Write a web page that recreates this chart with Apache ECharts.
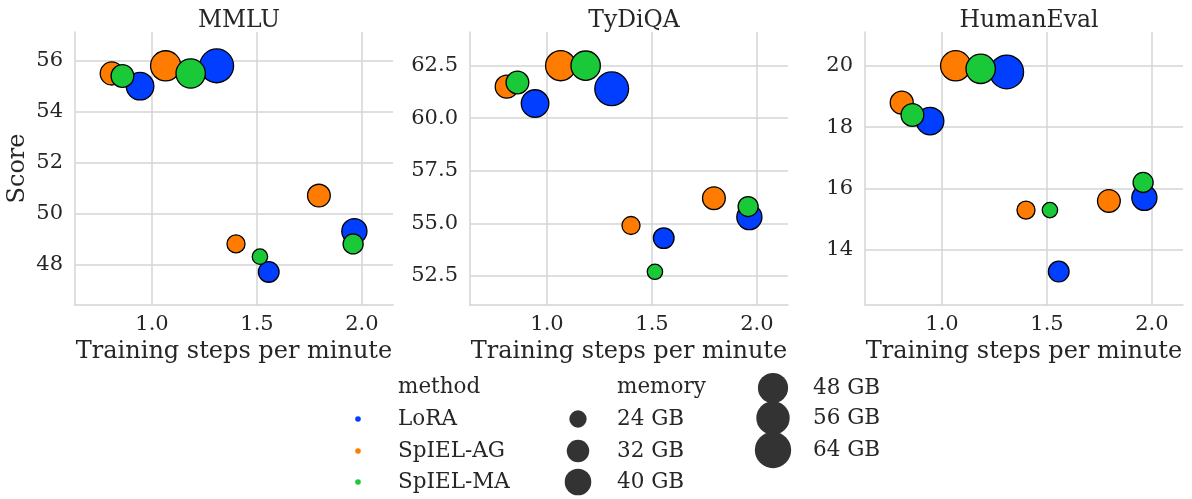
<!DOCTYPE html>
<html>
<head>
<meta charset="utf-8">
<script src="https://cdn.jsdelivr.net/npm/echarts@6/dist/echarts.min.js"></script>
<style>
  html, body { margin: 0; padding: 0; background: #ffffff; }
  #chart { width: 1192px; height: 499px; }
</style>
</head>
<body>
<div id="chart"></div>
<script>
const methods = ['LoRA', 'SpIEL-AG', 'SpIEL-MA'];
const methodColors = ['#023eff', '#ff7c00', '#1ac938'];
const benchmarks = ['MMLU', 'TyDiQA', 'HumanEval'];

// Training throughput (steps per minute) and peak memory (GB) of each run
const loraSpeed = [0.943, 1.308, 1.556, 1.964];
const loraMemory = [42, 57, 29, 37];
const agSpeed = [0.808, 1.065, 1.400, 1.795];
const agMemory = [33, 48, 25, 32.5];
const maSpeed = [0.859, 1.184, 1.514, 1.958];
const maMemory = [32.5, 46, 21.5, 28];

// Benchmark scores of the same runs
const loraMMLU = [55.0, 55.8, 47.7, 49.3];
const agMMLU = [55.5, 55.8, 48.8, 50.7];
const maMMLU = [55.4, 55.5, 48.3, 48.8];
const loraTyDiQA = [60.7, 61.4, 54.3, 55.3];
const agTyDiQA = [61.5, 62.5, 54.9, 56.2];
const maTyDiQA = [61.7, 62.5, 52.7, 55.8];
const loraHumanEval = [18.2, 19.8, 13.3, 15.7];
const agHumanEval = [18.8, 20.0, 15.3, 15.6];
const maHumanEval = [18.4, 19.9, 15.3, 16.2];

// Axis extents and tick steps
const xRange = [0.633, 2.148];
const xStep = 0.5;
const yRanges = [[46.4, 57.13], [51.12, 64.1], [12.21, 21.1]];
const ySteps = [2, 2.5, 2];
const yDecimals = [0, 1, 0];

// Memory values shown in the size legend
const memoryLegend = [24, 32, 40, 48, 56, 64];

const speeds = [loraSpeed, agSpeed, maSpeed];
const memories = [loraMemory, agMemory, maMemory];
const scores = [
  [loraMMLU, agMMLU, maMMLU],
  [loraTyDiQA, agTyDiQA, maTyDiQA],
  [loraHumanEval, agHumanEval, maHumanEval]
];

// marker diameter grows with memory (area is linear in memory)
function memToSize(m) {
  return Math.sqrt(300 + (m - 24) * 25.5);
}

const FONT = 'DejaVu Serif';
const TEXT = '#262626';
const GRID = '#d4d4d4';
const panelLeft = [75, 470, 865];
const panelTop = 32, panelW = 318, panelH = 273;

const grids = [], xAxes = [], yAxes = [], titles = [], series = [];

benchmarks.forEach((name, p) => {
  grids.push({ left: panelLeft[p], top: panelTop, width: panelW, height: panelH, containLabel: false });
  titles.push({
    text: name,
    left: panelLeft[p] + panelW / 2,
    top: 4,
    textAlign: 'center',
    textStyle: { fontFamily: FONT, fontSize: 23.5, fontWeight: 'normal', color: TEXT }
  });
  xAxes.push({
    type: 'value', gridIndex: p,
    min: xRange[0], max: xRange[1],
    minInterval: xStep, maxInterval: xStep,
    name: 'Training steps per minute',
    nameLocation: 'middle', nameGap: 35,
    nameTextStyle: { fontFamily: FONT, fontSize: 24, color: TEXT },
    axisLine: { show: true, lineStyle: { color: GRID, width: 1.5 } },
    axisTick: { show: false },
    axisLabel: {
      fontFamily: FONT, fontSize: 21, color: TEXT, margin: 9,
      showMinLabel: false, showMaxLabel: false,
      formatter: v => v.toFixed(1)
    },
    splitLine: { show: true, showMinLine: false, showMaxLine: false, lineStyle: { color: GRID, width: 1.5 } }
  });
  yAxes.push({
    type: 'value', gridIndex: p,
    min: yRanges[p][0], max: yRanges[p][1],
    minInterval: ySteps[p], maxInterval: ySteps[p],
    name: p === 0 ? 'Score' : '',
    nameLocation: 'middle', nameGap: 45, nameRotate: 90,
    nameTextStyle: { fontFamily: FONT, fontSize: 24, color: TEXT },
    axisLine: { show: true, lineStyle: { color: GRID, width: 1.5 } },
    axisTick: { show: false },
    axisLabel: {
      fontFamily: FONT, fontSize: 21, color: TEXT, margin: 12,
      showMinLabel: false, showMaxLabel: false,
      formatter: v => v.toFixed(yDecimals[p])
    },
    splitLine: { show: true, showMinLine: false, showMaxLine: false, lineStyle: { color: GRID, width: 1.5 } }
  });
  methods.forEach((m, k) => {
    series.push({
      type: 'scatter',
      name: m,
      xAxisIndex: p, yAxisIndex: p,
      data: speeds[k].map((s, i) => [s, scores[p][k][i], memories[k][i]]),
      symbol: 'circle',
      symbolSize: d => memToSize(d[2]),
      itemStyle: { color: methodColors[k], borderColor: '#000000', borderWidth: 1.3, opacity: 1 },
      emphasis: { disabled: true },
      z: 2 + k
    });
  });
});

// Legend: hue (method) and size (memory) entries
const graphics = [];
const legendFont = '21.5px "' + FONT + '"';
const rowY = [387, 419, 451, 482];
function legendText(x, y, s) {
  graphics.push({ type: 'text', x: x, y: y,
    style: { text: s, font: legendFont, fill: TEXT, verticalAlign: 'middle', align: 'left' } });
}
legendText(398, rowY[0], 'method');
methods.forEach((m, k) => {
  graphics.push({ type: 'circle', shape: { cx: 358, cy: rowY[k + 1], r: 2.8 },
    style: { fill: methodColors[k] } });
  legendText(398, rowY[k + 1], m);
});
legendText(617, rowY[0], 'memory');
const sizeSlots = [[578, 419], [578, 451], [578, 482], [773, 388], [773, 418], [773, 450]];
memoryLegend.forEach((g, i) => {
  const [cx, cy] = sizeSlots[i];
  graphics.push({ type: 'circle', shape: { cx: cx, cy: cy, r: memToSize(g) / 2 },
    style: { fill: '#333333' } });
  legendText(i < 3 ? 617 : 813, cy, g + ' GB');
});

const chart = echarts.init(document.getElementById('chart'), null, { renderer: 'canvas' });
chart.setOption({
  backgroundColor: '#ffffff',
  animation: false,
  title: titles,
  grid: grids,
  xAxis: xAxes,
  yAxis: yAxes,
  series: series,
  graphic: graphics
});
</script>
</body>
</html>
